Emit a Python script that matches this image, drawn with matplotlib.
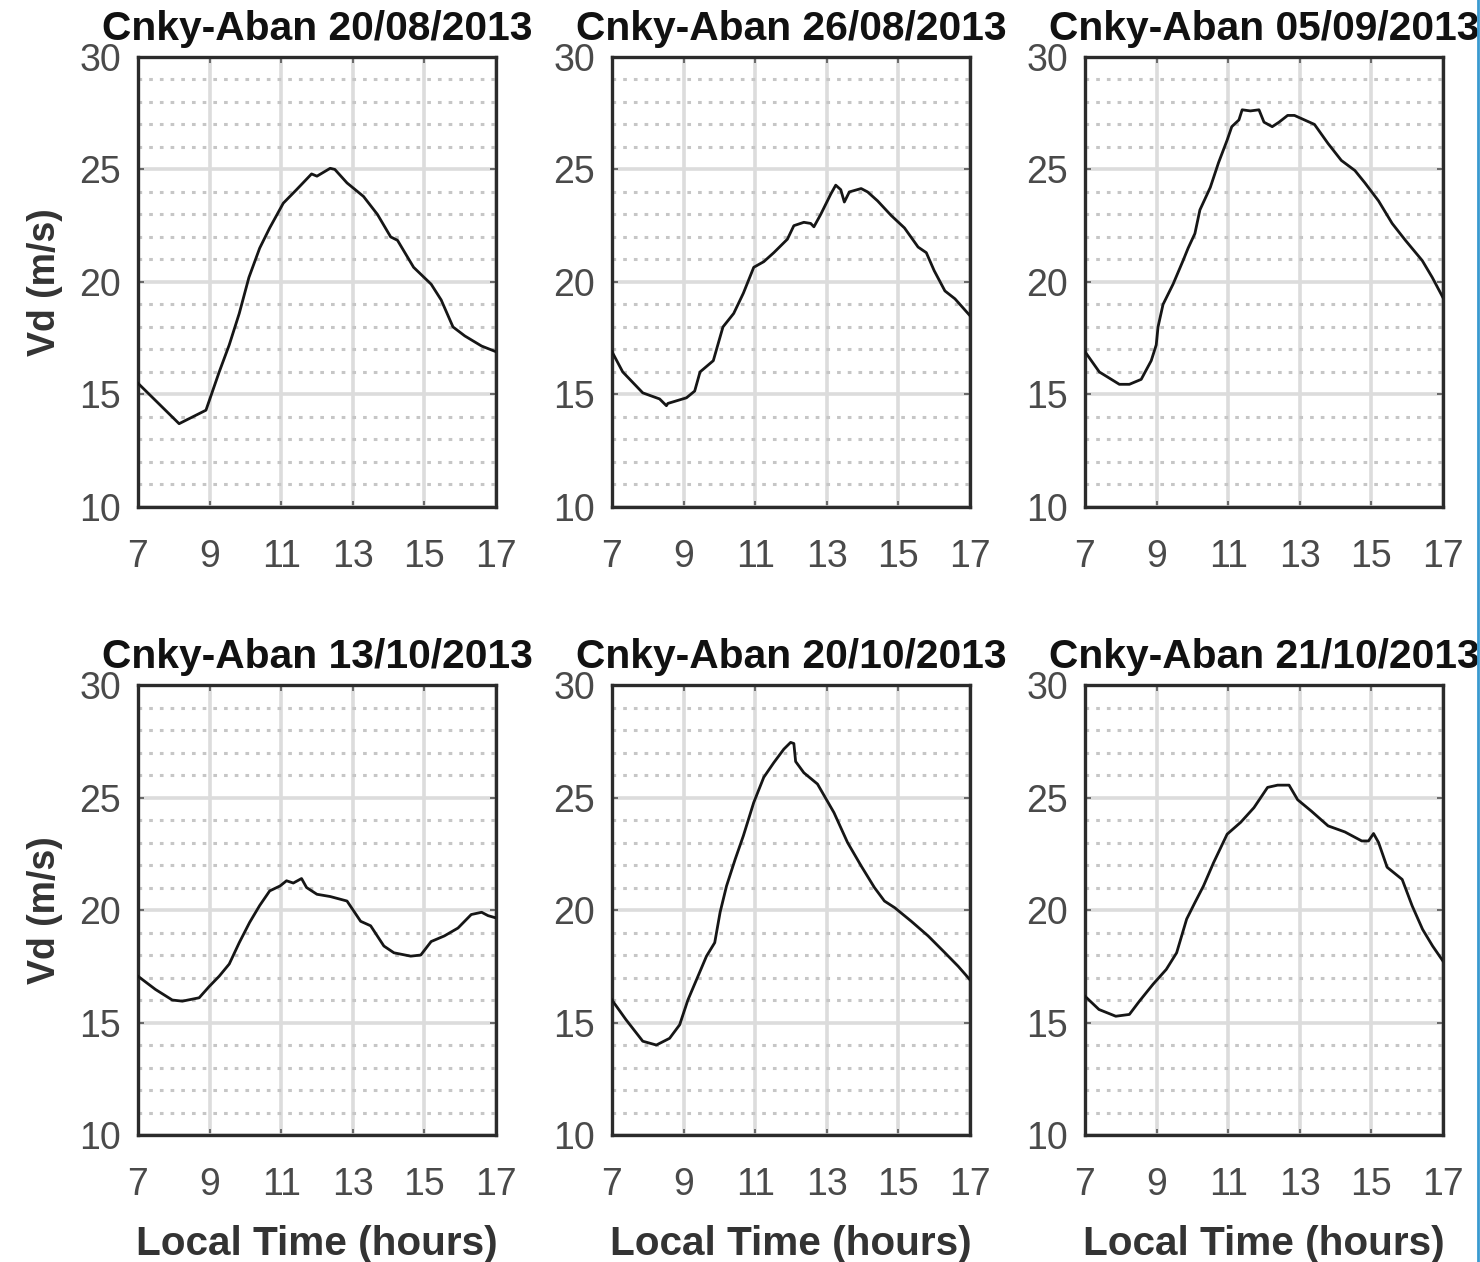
import matplotlib.pyplot as plt
from matplotlib.lines import Line2D
from matplotlib.ticker import MultipleLocator

plt.rcParams['font.family'] = ['Liberation Sans', 'DejaVu Sans']

# drift velocity Vd (m/s) vs local time, Cnky-Aban station
t_0820 = [7.0, 8.15, 8.9, 9.27, 9.55, 9.83, 10.1, 10.4, 10.68, 11.06, 11.43, 11.85, 12.0,
          12.37, 12.5, 12.84, 13.3, 13.69, 14.06, 14.25, 14.7, 15.19, 15.47, 15.8, 16.13,
          16.6, 17.0]
v_0820 = [15.5, 13.7, 14.3, 16.0, 17.2, 18.6, 20.2, 21.5, 22.4, 23.5, 24.1, 24.8, 24.7,
          25.05, 25.0, 24.4, 23.8, 23.0, 22.0, 21.85, 20.65, 19.9, 19.2, 18.0, 17.6,
          17.15, 16.9]

t_0826 = [7.0, 7.3, 7.86, 8.33, 8.52, 8.56, 9.08, 9.31, 9.46, 9.83, 10.1, 10.4, 10.67,
          10.96, 11.24, 11.52, 11.9, 12.08, 12.36, 12.55, 12.64, 12.83, 13.11, 13.25, 13.39,
          13.49, 13.63, 13.96, 14.14, 14.42, 14.8, 15.17, 15.55, 15.78, 16.0, 16.3, 16.58,
          17.0]
v_0826 = [16.9, 16.0, 15.07, 14.8, 14.5, 14.6, 14.85, 15.15, 16.0, 16.5, 18.0, 18.6, 19.5,
          20.65, 20.9, 21.3, 21.9, 22.5, 22.65, 22.6, 22.45, 23.0, 23.9, 24.3, 24.1,
          23.55, 24.0, 24.15, 24.0, 23.6, 22.95, 22.4, 21.55, 21.3, 20.5, 19.6, 19.25,
          18.5]

t_0905 = [7.0, 7.4, 7.96, 8.24, 8.57, 8.85, 8.99, 9.04, 9.18, 9.46, 9.74, 9.88, 10.07,
          10.21, 10.5, 10.73, 10.97, 11.1, 11.3, 11.39, 11.62, 11.86, 12.0, 12.23, 12.42,
          12.66, 12.85, 13.13, 13.41, 13.79, 14.16, 14.54, 14.82, 15.2, 15.58, 15.95,
          16.42, 16.7, 17.0]
v_0905 = [16.9, 16.0, 15.45, 15.45, 15.67, 16.5, 17.2, 18.0, 19.0, 19.9, 20.95, 21.5, 22.15,
          23.2, 24.2, 25.3, 26.3, 26.9, 27.2, 27.65, 27.6, 27.65, 27.1, 26.9, 27.1,
          27.4, 27.4, 27.2, 27.0, 26.15, 25.4, 24.95, 24.4, 23.6, 22.6, 21.85,
          20.95, 20.2, 19.3]

t_1013 = [7.0, 7.49, 7.96, 8.24, 8.71, 8.99, 9.27, 9.55, 9.83, 10.12, 10.4, 10.68, 10.97,
          11.15, 11.34, 11.57, 11.71, 12.0, 12.37, 12.84, 13.22, 13.5, 13.87, 14.15, 14.62,
          14.9, 15.19, 15.56, 15.94, 16.31, 16.6, 16.78, 17.0]
v_1013 = [17.06, 16.47, 16.0, 15.95, 16.1, 16.6, 17.06, 17.6, 18.55, 19.45, 20.2, 20.85, 21.07,
          21.3, 21.2, 21.4, 21.0, 20.7, 20.6, 20.4, 19.5, 19.3, 18.4, 18.1, 17.95,
          18.0, 18.6, 18.85, 19.2, 19.8, 19.9, 19.75, 19.65]

t_1020 = [7.0, 7.39, 7.86, 8.24, 8.61, 8.89, 9.12, 9.36, 9.64, 9.87, 10.02, 10.2, 10.44,
          10.67, 10.96, 11.24, 11.52, 11.8, 11.99, 12.08, 12.13, 12.36, 12.74, 13.2, 13.58,
          13.96, 14.33, 14.61, 14.9, 15.36, 15.83, 16.3, 16.67, 17.0]
v_1020 = [16.0, 15.13, 14.17, 14.0, 14.3, 14.9, 16.0, 16.9, 17.95, 18.55, 19.9, 21.07, 22.25,
          23.3, 24.78, 25.9, 26.55, 27.15, 27.45, 27.4, 26.6, 26.1, 25.6, 24.33, 23.0,
          21.96, 21.0, 20.4, 20.1, 19.5, 18.85, 18.1, 17.5, 16.9]

t_1021 = [7.0, 7.39, 7.86, 8.24, 8.52, 8.9, 9.27, 9.56, 9.84, 10.07, 10.31, 10.59, 10.97,
          11.35, 11.72, 12.1, 12.38, 12.7, 12.94, 13.32, 13.79, 14.26, 14.73, 14.92, 15.06,
          15.2, 15.44, 15.86, 16.14, 16.43, 16.71, 17.0]
v_1021 = [16.17, 15.58, 15.28, 15.36, 15.95, 16.7, 17.36, 18.1, 19.6, 20.33, 21.07, 22.1, 23.37,
          23.9, 24.55, 25.45, 25.55, 25.55, 24.9, 24.4, 23.74, 23.47, 23.07, 23.07, 23.4,
          23.0, 21.9, 21.36, 20.18, 19.14, 18.4, 17.73]

dates = ['20/08/2013', '26/08/2013', '05/09/2013',
         '13/10/2013', '20/10/2013', '21/10/2013']
times = [t_0820, t_0826, t_0905, t_1013, t_1020, t_1021]
speeds = [v_0820, v_0826, v_0905, v_1013, v_1020, v_1021]

x_ticks = [7, 9, 11, 13, 15, 17]
y_ticks = [10, 15, 20, 25, 30]

fig = plt.figure(figsize=(14.8, 12.62), dpi=100)

lefts = [0.0932, 0.4135, 0.7331]
bottoms = [0.5983, 0.1006]
w, h = 0.2419, 0.3566

for i, (date, t, v) in enumerate(zip(dates, times, speeds)):
    row, col = divmod(i, 3)
    ax = fig.add_axes([lefts[col], bottoms[row], w, h])

    ax.plot(t, v, color='#161616', lw=2.0, zorder=3)

    ax.set_xlim(7, 17)
    ax.set_ylim(10, 30)
    ax.set_xticks(x_ticks)
    ax.set_yticks(y_ticks)
    ax.yaxis.set_minor_locator(MultipleLocator(1))

    ax.grid(True, which='major', color='#dcdcdc', lw=2.6, zorder=0)
    ax.grid(True, which='minor', axis='y', color='#c6c6c6', lw=2.2,
            linestyle=(0, (1.2, 2.3)), zorder=0)
    ax.set_axisbelow(True)

    for sp in ax.spines.values():
        sp.set_color('#2b2b2b')
        sp.set_linewidth(2.4)

    ax.tick_params(which='major', direction='in', length=4, width=1.2,
                   color='#555555', top=True, right=True,
                   labelsize=27, labelcolor='#4a4a4a')
    ax.tick_params(axis='x', which='major', pad=23)
    ax.tick_params(axis='y', which='major', pad=12)
    ax.tick_params(which='minor', length=0)

    ax.set_title('Cnky-Aban ' + date, fontsize=29.3, fontweight='bold',
                 color='#111111', pad=12.5)
    if col == 0:
        ax.set_ylabel('Vd (m/s)', fontsize=27, fontweight='bold',
                      color='#333333', labelpad=12)
    if row == 1:
        ax.set_xlabel('Local Time (hours)', fontsize=29.2, fontweight='bold',
                      color='#333333', labelpad=16)

# thin blue rule along the right edge
fig.add_artist(Line2D([0.9987, 0.9987], [0, 1], transform=fig.transFigure,
                      color='#3a9ad0', lw=2))

fig.savefig('out.png', dpi=100)
